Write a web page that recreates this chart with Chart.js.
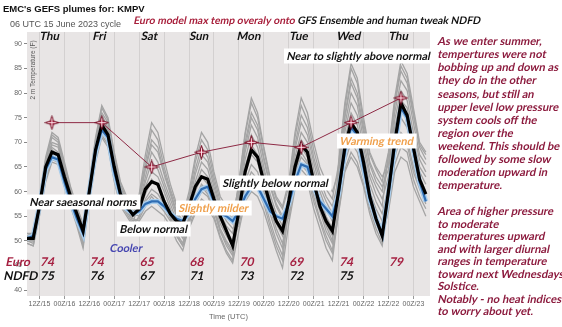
<!DOCTYPE html>
<html>
<head>
<meta charset="utf-8">
<title>GEFS plumes KMPV</title>
<script src="https://cdn.jsdelivr.net/npm/chart.js@4.4.1/dist/chart.umd.min.js"></script>
<style>
  html, body { margin: 0; padding: 0; background: #fff; }
  canvas { display: block; }
</style>
</head>
<body>
<canvas id="plumes" width="562" height="327"></canvas>
<script>
// forecast hours after 00Z 15 June, every 3 h (06Z/15 .. 06Z/23)
const hours = Array.from({ length: 65 }, (_, i) => 6 + 3 * i);

// ensemble mean (black)
const ensMean = [50.5, 50.5, 57, 65, 68, 67.5, 63, 59, 55.5, 52,
  60, 68.5, 73.5, 71.5, 65, 59.5, 57, 55.3,
  56.5, 60.5, 62, 61.5, 58, 55.5, 54, 53.5,
  57, 61, 63, 62.5, 58.5, 55, 52, 49,
  56, 64, 68.5, 67, 62, 57.5, 54, 52,
  58, 65, 69.5, 68, 62, 57, 54, 52,
  60, 69, 74, 72, 66, 59, 54.5, 51,
  60, 70, 78, 75.5, 69, 62.5, 59.5];

// operational GFS (blue)
const gfsOper = [50.5, 51, 57, 64.5, 67, 66.5, 62, 58, 54.5, 51.5,
  60, 68, 72.5, 71, 64, 59, 56.5, 55.5,
  56, 57.5, 58, 58, 57, 55.5, 54.5, 54,
  55.5, 58.5, 60.5, 61, 58, 55.5, 55, 54,
  56, 59, 61, 61, 58.5, 56, 55, 54.5,
  57.5, 62, 65.5, 65, 61, 58, 56.5, 55,
  59.5, 68, 73, 71.5, 65, 58.5, 54.5, 51.5,
  59.5, 69, 77, 75, 68.5, 62, 58];

// ensemble members (grey)
const members = [
  [51.5, 51, 58.5, 66.5, 71.5, 70.5, 65.5, 60.5, 56.5, 53,
   61, 70, 76, 74, 67, 61, 58, 56.5,
   59.5, 67.5, 74, 72, 66.5, 61.5, 57.5, 55.5,
   59, 66, 70.5, 68.5, 63, 58, 56, 54.5,
   61.5, 71.5, 78, 75, 68.5, 62.5, 58.5, 56.5,
   61, 71, 77.5, 74.5, 68.5, 63.5, 60.5, 58.5,
   65.5, 77, 85, 82, 74, 67.5, 64.5, 62,
   68, 79, 86.5, 84, 77, 70, 68],
  [49.5, 49, 55.5, 62.5, 66.5, 66, 61.5, 57.5, 53.5, 49,
   59, 67, 72.5, 70, 63, 58, 56, 54,
   54.5, 57, 59, 57.5, 56, 54, 51, 49,
   52.5, 55.5, 58, 56.5, 54.5, 50.5, 47.5, 45.5,
   52, 58, 60, 59, 56, 52, 48, 44.5,
   53.5, 60.5, 63, 62, 56.5, 52.5, 48.5, 46,
   56, 64.5, 68, 66, 61.5, 56.5, 52.5, 49.5,
   57, 65.5, 69, 68, 62.5, 59, 56.5],
  [50.5, 50.5, 57, 64.5, 69, 68, 63.5, 59, 55, 51,
   60.5, 69, 75, 72.5, 65.5, 60, 57.5, 55.5,
   58, 64.5, 69.5, 68, 63.5, 59.5, 55.5, 53.5,
   58.5, 64.5, 69, 67, 62, 57, 55, 53.5,
   62, 72, 79, 76, 69, 63, 59, 57,
   62, 72, 79, 76, 70, 65, 62, 60,
   64, 75, 82, 79, 72, 65.5, 62, 60,
   67, 77.5, 84.5, 82, 75.5, 69, 66.5],
  [50, 50, 56, 63.5, 68, 67, 62.5, 58, 54, 50,
   59.5, 68, 73.5, 71.5, 64.5, 59, 56.5, 55,
   56, 59.5, 62.5, 61, 58.5, 55.5, 52.5, 50.5,
   53.5, 57.5, 60, 59, 56, 52, 49, 47,
   55, 62, 65.5, 64, 60, 55.5, 51.5, 48.5,
   57.5, 66, 70.5, 68.5, 63, 58.5, 55, 52.5,
   61.5, 72, 78, 75.5, 69, 63, 59.5, 57,
   67.5, 78, 85.5, 83, 76, 69.5, 67.5],
  [51, 51, 58, 65.5, 70, 69.5, 64.5, 60, 56, 52,
   62, 71, 77.5, 75, 68, 62, 59, 57.5,
   57, 62, 66, 64.5, 61, 57.5, 54, 52,
   57, 62, 66, 64.5, 60, 55.5, 53, 51.5,
   59, 68, 73.5, 71, 65, 59.5, 55.5, 53,
   55.5, 63.5, 67, 65.5, 60, 56, 52, 49.5,
   66, 78, 86, 83, 75, 68, 65, 63,
   65.5, 76, 82.5, 80.5, 74, 67.5, 65.5],
  [49.5, 49, 55, 62, 66, 65.5, 61, 57, 53, 48.5,
   58, 66, 71, 69, 62, 57, 55, 53,
   55, 58.5, 60.5, 59.5, 57.5, 55, 51.5, 49.5,
   55, 60, 63, 61.5, 58, 53.5, 51, 49,
   57, 65, 69.5, 67.5, 62.5, 57.5, 53.5, 51,
   59.5, 68.5, 74, 71.5, 66, 61, 58, 55.5,
   59.5, 69, 74, 71.5, 66, 60, 56.5, 54,
   58.5, 67, 71, 69.5, 64, 60.5, 57.5],
  [50.5, 50.5, 57.5, 65, 69.5, 69, 64, 59.5, 55.5, 51.5,
   60, 68.5, 74, 72, 65, 59.5, 57, 55.5,
   59, 66, 72.5, 70.5, 65, 60.5, 57, 55,
   60, 67, 72, 70, 64, 59, 57, 55.5,
   60, 69, 75, 72.5, 66.5, 61, 57, 54.5,
   55, 62.5, 65.5, 64, 59, 54.5, 51, 48,
   57, 66, 70, 68, 63, 57.5, 54, 51,
   56, 64, 67, 66, 61, 58, 55],
  [51.5, 51.5, 59, 67, 72, 71, 66, 61, 57, 53.5,
   61, 69.5, 75.5, 73, 66, 60.5, 58, 56,
   56.5, 61, 64, 63, 60, 56.5, 53, 51,
   54.5, 58.5, 61.5, 60, 57, 52.5, 50, 48,
   54, 61, 64, 62.5, 58.5, 54, 50, 47,
   60, 69.5, 75.5, 73, 67, 62.5, 59, 57,
   62.5, 73.5, 80, 77.5, 70.5, 64, 61, 58.5,
   63, 73, 78.5, 77, 70.5, 65, 63],
  [50.5, 50, 56.5, 64, 68.5, 67.5, 63, 58.5, 54.5, 50.5,
   59, 67.5, 73, 71, 64, 58.5, 56, 54.5,
   54, 56, 57, 56, 55, 53, 50, 48,
   53, 56, 58.5, 57.5, 55, 51, 48, 46,
   58, 66.5, 71.5, 69, 64, 58.5, 54.5, 52,
   58.5, 67, 72, 70, 64.5, 60, 56.5, 54,
   58.5, 67.5, 72, 69.5, 64.5, 59, 55, 52.5,
   62, 71.5, 77, 75, 69, 64, 61.5],
  [50, 49.5, 56, 63, 67, 66.5, 62, 58, 54, 49.5,
   61.5, 70.5, 77, 74.5, 67.5, 61.5, 58.5, 57,
   57.5, 63, 68, 66, 62, 58.5, 55, 53,
   57.5, 63.5, 67.5, 66, 61, 56.5, 54, 52.5,
   53, 59.5, 62, 60.5, 57.5, 53, 49, 46,
   56.5, 65, 69, 67, 61.5, 57, 53.5, 51,
   60.5, 70.5, 76, 73.5, 67.5, 61.5, 58, 55.5,
   61, 70, 75, 73, 67.5, 63, 60],
  [51, 51, 58, 66, 71, 70, 65, 60, 56, 52.5,
   58.5, 66.5, 71.5, 69.5, 62.5, 57.5, 55.5, 53.5,
   58.5, 65, 70.5, 69, 64, 60, 56, 54,
   56, 61, 64.5, 63, 59, 54.5, 52, 50,
   56, 63.5, 67.5, 66, 61, 56.5, 52.5, 49.5,
   56, 64, 68, 66, 61, 56.5, 53, 50,
   64.5, 75.5, 83, 80, 73, 66, 63, 61,
   64.5, 74.5, 80.5, 78.5, 72, 66.5, 64],
  [50, 50, 56.5, 64, 68, 67.5, 63, 58.5, 54.5, 50.5,
   60, 69, 74.5, 72.5, 65.5, 60, 57, 55.5,
   55, 58, 59.5, 58.5, 57, 54.5, 51, 49,
   54, 58, 61, 59.5, 56.5, 52, 49.5, 47.5,
   60.5, 70, 76, 73.5, 67, 61.5, 57.5, 55,
   54.5, 62, 64.5, 63, 58, 54, 50, 47.5,
   55.5, 64, 67, 65, 61, 55.5, 51.5, 49,
   59, 68, 72, 70.5, 65, 61, 58]
];

// daily max: Euro model and NDFD, valid ~18Z each day
const dayHours = [18, 42, 66, 90, 114, 138, 162, 186];
const dayNames = ['Thu', 'Fri', 'Sat', 'Sun', 'Mon', 'Tue', 'Wed', 'Thu'];
const euroMax = [74, 74, 65, 68, 70, 69, 74, 79];
const ndfdMax = [75, 76, 67, 71, 73, 72, 75];

const tickHours = [12, 24, 36, 48, 60, 72, 84, 96, 108, 120, 132, 144, 156, 168, 180, 192];
const tickLabels = ['12Z/15', '00Z/16', '12Z/16', '00Z/17', '12Z/17', '00Z/18', '12Z/18', '00Z/19',
  '12Z/19', '00Z/20', '12Z/20', '00Z/21', '12Z/21', '00Z/22', '12Z/22', '00Z/23'];
const tempTicks = [40, 45, 50, 55, 60, 65, 70, 75, 80, 85, 90];

const noteTop = ['As we enter summer,', 'tempertures were not', 'bobbing up and down as',
  'they do in the other', 'seasons, but still an', 'upper level low pressure',
  'system cools off the', 'region over the', 'weekend. This should be',
  'followed by some slow', 'moderation upward in', 'temperature.'];
const noteBottom = ['Area of higher pressure', 'to moderate', 'temperatures upward',
  'and with larger diurnal', 'ranges in temperature', 'toward next Wednesdays',
  'Solstice.', 'Notably - no heat indices', 'to worry about yet.'];

const DARKRED = '#8c1b3e';
const HAND = 'bold 11px Lato';
const NOTE = 'bold 11.2px Lato';

function makeStar(size) {
  const c = document.createElement('canvas');
  c.width = c.height = size;
  const g = c.getContext('2d');
  const m = size / 2, r = size / 2 - 0.5, k = r * 0.34;
  g.beginPath();
  for (let i = 0; i < 8; i++) {
    const a = i * Math.PI / 4 - Math.PI / 2;
    const rr = i % 2 ? k : r;
    g.lineTo(m + rr * Math.cos(a), m + rr * Math.sin(a));
  }
  g.closePath();
  g.fillStyle = '#a01c3a';
  g.fill();
  g.strokeStyle = '#6c0e22';
  g.lineWidth = 0.7;
  g.stroke();
  g.strokeStyle = 'rgba(255,230,235,0.95)';
  g.lineWidth = 1;
  g.beginPath();
  g.moveTo(m, m - r * 0.6); g.lineTo(m, m + r * 0.6);
  g.moveTo(m - r * 0.6, m); g.lineTo(m + r * 0.6, m);
  g.stroke();
  return c;
}

const pts = arr => arr.map((v, i) => ({ x: hours[i], y: v }));

// slanted text (Lato has no italic face installed here)
function slant(ctx, text, x, y) {
  ctx.save();
  ctx.translate(x, y);
  ctx.transform(1, 0, -0.21, 1, 0, 0);
  ctx.fillText(text, 0, 0);
  ctx.restore();
}

function boxText(ctx, text, x, y, color, box) {
  ctx.font = HAND;
  ctx.textBaseline = 'middle';
  ctx.textAlign = 'left';
  const w = ctx.measureText(text).width;
  if (box) {
    ctx.fillStyle = '#ffffff';
    ctx.fillRect(x - 3, y - 7.5, w + 6, 15);
  }
  ctx.fillStyle = color;
  slant(ctx, text, x, y);
}

const decor = {
  id: 'decor',
  beforeDraw(chart) {
    const { ctx, chartArea: a } = chart;
    ctx.save();
    ctx.fillStyle = '#e8e5e5';
    ctx.fillRect(a.left, a.top, a.right - a.left, a.bottom - a.top);
    ctx.restore();
  },
  beforeDatasetsDraw(chart) {
    const { ctx } = chart;
    ctx.save();
    ctx.translate(33, 70);
    ctx.rotate(-Math.PI / 2);
    ctx.font = '6.5px "Liberation Sans"';
    ctx.fillStyle = '#555';
    ctx.textAlign = 'center';
    ctx.textBaseline = 'middle';
    ctx.fillText('2 m Temperature (F)', 0, 0);
    ctx.restore();
  },
  afterDatasetsDraw(chart) {
    const { ctx } = chart;
    const xs = chart.scales.x;
    ctx.save();
    boxText(ctx, 'Near to slightly above normal', 287, 56, '#111', true);
    boxText(ctx, 'Warming trend', 340, 141, '#f0a04c', true);
    boxText(ctx, 'Slightly below normal', 223, 183, '#111', true);
    boxText(ctx, 'Near saeasonal norms', 30, 202, '#111', true);
    boxText(ctx, 'Slightly milder', 179, 208, '#f0a04c', true);
    boxText(ctx, 'Below normal', 120, 229, '#111', true);
    boxText(ctx, 'Cooler', 110, 248, '#4646b0', false);

    ctx.font = 'bold 12px Lato';
    ctx.textAlign = 'center';
    ctx.textBaseline = 'middle';
    euroMax.forEach((v, i) => {
      ctx.fillStyle = '#a51f40';
      slant(ctx, String(v), xs.getPixelForValue(dayHours[i] - 2), 262);
    });
    ndfdMax.forEach((v, i) => {
      ctx.fillStyle = '#111';
      slant(ctx, String(v), xs.getPixelForValue(dayHours[i] - 2), 276);
    });
    ctx.textAlign = 'left';
    ctx.fillStyle = '#a51f40';
    slant(ctx, 'Euro', 6, 262);
    ctx.fillStyle = '#111';
    slant(ctx, 'NDFD', 4, 276);
    ctx.restore();
  },
  afterDraw(chart) {
    const { ctx } = chart;
    const xs = chart.scales.x;
    ctx.save();
    ctx.textBaseline = 'middle';
    ctx.textAlign = 'left';
    ctx.font = 'bold 9.5px "Liberation Sans"';
    ctx.fillStyle = '#111';
    ctx.fillText("EMC's GEFS plumes for: KMPV", 3, 9);
    ctx.font = '9px "Liberation Sans"';
    ctx.fillStyle = '#555';
    ctx.fillText('06 UTC 15 June 2023 cycle', 10, 25);

    ctx.font = 'bold 10.4px Lato';
    const head = 'Euro model max temp overaly onto ';
    ctx.fillStyle = '#a8203c';
    slant(ctx, head, 134, 21);
    ctx.fillStyle = '#111';
    slant(ctx, 'GFS Ensemble and human tweak NDFD', 134 + ctx.measureText(head).width, 21);

    ctx.font = 'bold 11.5px Lato';
    ctx.textAlign = 'center';
    dayNames.forEach((d, i) => {
      slant(ctx, d, xs.getPixelForValue(dayHours[i] - 1), 36);
    });

    ctx.font = NOTE;
    ctx.textAlign = 'left';
    ctx.fillStyle = DARKRED;
    noteTop.forEach((t, i) => slant(ctx, t, 438, 41.5 + i * 13.1));
    noteBottom.forEach((t, i) => slant(ctx, t, 438, 211.7 + i * 12.5));
    ctx.restore();
  }
};

const star = makeStar(15);

const datasets = [
  {
    label: 'Euro max',
    data: euroMax.map((v, i) => ({ x: dayHours[i], y: v })),
    borderColor: '#8e2a45',
    borderWidth: 1,
    pointStyle: star,
    pointRadius: 7
  },
  { label: 'Ensemble mean', data: pts(ensMean), borderColor: '#000', borderWidth: 3.2, pointRadius: 0 },
  { label: 'GFS', data: pts(gfsOper), borderColor: '#2f6db3', borderWidth: 2.2, pointRadius: 0 },
  { label: 'GFS edge', data: pts(gfsOper), borderColor: '#a9cdec', borderWidth: 5, pointRadius: 0 }
].concat(members.map((m, k) => ({
  label: 'member ' + (k + 1),
  data: pts(m),
  borderColor: '#a4a4a4',
  borderWidth: 1.3,
  pointRadius: 0
})));

new Chart(document.getElementById('plumes'), {
  type: 'line',
  data: { datasets },
  options: {
    responsive: false,
    devicePixelRatio: 1,
    animation: false,
    events: [],
    layout: { padding: { left: 0, top: 32, right: 132, bottom: 0 } },
    plugins: { legend: { display: false }, tooltip: { enabled: false } },
    scales: {
      x: {
        type: 'linear',
        min: 6,
        max: 200,
        afterFit(s) { s.height = 31; },
        afterBuildTicks(s) { s.ticks = tickHours.map(v => ({ value: v })); },
        ticks: {
          autoSkip: false,
          maxRotation: 0,
          padding: 1,
          color: '#666',
          font: { family: 'Liberation Sans', size: 7 },
          callback: (v, i) => tickLabels[i]
        },
        grid: { color: 'rgba(0,0,0,0.09)', tickLength: 3, tickColor: '#999' },
        border: { display: false },
        title: {
          display: true,
          text: 'Time (UTC)',
          color: '#666',
          font: { family: 'Liberation Sans', size: 7.5 },
          padding: { top: 0, bottom: 6 }
        }
      },
      y: {
        min: 38.8,
        max: 92.4,
        afterFit(s) { s.width = 27; },
        afterBuildTicks(s) { s.ticks = tempTicks.map(v => ({ value: v })); },
        ticks: { padding: 2, color: '#666', font: { family: 'Liberation Sans', size: 7 } },
        grid: { drawOnChartArea: false, tickLength: 3, tickColor: '#888' },
        border: { display: false }
      }
    }
  },
  plugins: [decor]
});
</script>
</body>
</html>
